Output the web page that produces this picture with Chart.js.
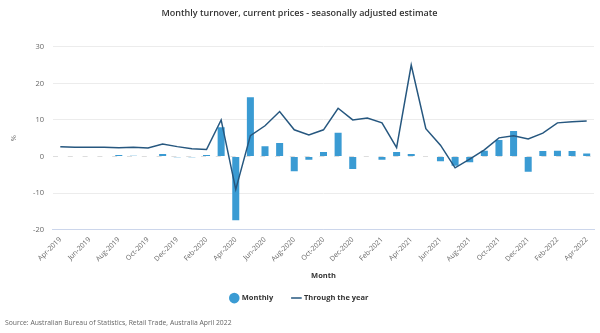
<!DOCTYPE html>
<html>
<head>
<meta charset="utf-8">
<script src="https://cdn.jsdelivr.net/npm/chart.js@4"></script>
<style>
  html, body { margin: 0; padding: 0; background: #fff; }
  #wrap { width: 600px; height: 333px; }
</style>
</head>
<body>
<div id="wrap"><canvas id="chart-1"></canvas></div>
<script>
const months = ['Apr-2019','May-2019','Jun-2019','Jul-2019','Aug-2019','Sep-2019','Oct-2019','Nov-2019','Dec-2019',
  'Jan-2020','Feb-2020','Mar-2020','Apr-2020','May-2020','Jun-2020','Jul-2020','Aug-2020','Sep-2020','Oct-2020','Nov-2020','Dec-2020',
  'Jan-2021','Feb-2021','Mar-2021','Apr-2021','May-2021','Jun-2021','Jul-2021','Aug-2021','Sep-2021','Oct-2021','Nov-2021','Dec-2021',
  'Jan-2022','Feb-2022','Mar-2022','Apr-2022'];

// month on month change, %
const monthly = [0.0, 0.0, 0.0, 0.0, 0.4, 0.2, 0.0, 0.7, -0.2,
  -0.2, 0.4, 8.0, -17.4, 16.2, 2.8, 3.7, -4.0, -0.9, 1.2, 6.5, -3.4,
  0.0, -0.9, 1.2, 0.7, 0.0, -1.3, -2.5, -1.6, 1.6, 4.5, 7.0, -4.2,
  1.5, 1.6, 1.5, 0.8];

// through the year change, %
const throughYear = [2.7, 2.5, 2.5, 2.5, 2.4, 2.5, 2.3, 3.4, 2.7,
  2.1, 1.9, 10.0, -9.0, 5.7, 8.4, 12.3, 7.3, 5.9, 7.3, 13.2, 10.0,
  10.5, 9.2, 2.4, 25.0, 7.6, 3.1, -3.1, -0.7, 1.8, 5.1, 5.7, 4.8,
  6.4, 9.2, 9.5, 9.7];

const yTicks = [-20, -10, 0, 10, 20, 30];

const FONT = '"Open Sans", "Noto Sans", sans-serif';

const ctx = document.getElementById('chart-1').getContext('2d');
const chart_1 = new Chart(ctx, {
    type: 'bar',
    data: {
        labels: months,
        datasets: [
            {
                label: 'Monthly',
                data: monthly,
                backgroundColor: '#3a9bd3',
                borderWidth: 0,
                barPercentage: 0.48,
                categoryPercentage: 1,
                pointStyle: 'circle',
                order: 1
            },
            {
                label: 'Through the year',
                type: 'line',
                data: throughYear,
                borderColor: '#26577f',
                backgroundColor: '#26577f',
                borderWidth: 1.5,
                pointRadius: 0,
                pointStyle: 'line',
                tension: 0,
                order: 0
            }
        ]
    },
    options: {
        responsive: true,
        maintainAspectRatio: false,
        animation: false,
        layout: {
            padding: { left: 5, right: 6, top: 4, bottom: 2 }
        },
        scales: {
            x: {
                offset: true,
                grid: { display: false, drawTicks: false },
                border: { display: true, color: '#ccd6eb' },
                ticks: {
                    autoSkip: false,
                    maxRotation: 45,
                    minRotation: 45,
                    padding: 6,
                    color: '#666',
                    font: { family: FONT, size: 7 },
                    callback: (v, i) => (i % 2 === 0 ? months[i] : '')
                },
                title: {
                    display: true,
                    text: 'Month',
                    color: '#333',
                    font: { family: FONT, size: 7.5, weight: 'bold' },
                    padding: { top: 2, bottom: 2 }
                }
            },
            y: {
                min: -20,
                max: 30,
                afterBuildTicks: axis => { axis.ticks = yTicks.map(v => ({ value: v })); },
                grid: {
                    drawTicks: false,
                    color: c => (c.tick && c.tick.value === -20 ? '#ccd6eb' : (c.tick && c.tick.value === 0 ? '#dddddd' : '#ececec')),
                    lineWidth: 1
                },
                border: {
                    display: false,
                    dash: c => (c.tick && c.tick.value === 0 ? [5, 9.8] : [])
                },
                ticks: {
                    padding: 9,
                    color: '#666',
                    font: { family: FONT, size: 7.5 }
                },
                title: {
                    display: true,
                    text: '%',
                    color: '#666',
                    font: { family: FONT, size: 7.5 },
                    padding: { bottom: 6 }
                }
            }
        },
        plugins: {
            title: {
                display: true,
                text: 'Monthly turnover, current prices - seasonally adjusted estimate',
                color: '#333',
                font: { family: FONT, size: 9, weight: '600' },
                padding: { top: 4, bottom: 28 }
            },
            subtitle: {
                display: true,
                position: 'bottom',
                align: 'start',
                text: 'Source: Australian Bureau of Statistics, Retail Trade, Australia April 2022',
                color: '#666',
                font: { family: FONT, size: 6.8 },
                padding: { top: 7, bottom: 4 }
            },
            legend: {
                position: 'bottom',
                labels: {
                    usePointStyle: true,
                    boxHeight: 9,
                    color: '#333',
                    font: { family: FONT, size: 7.5, weight: 'bold' },
                    padding: 12,
                    sort: (a, b) => a.datasetIndex - b.datasetIndex,
                    generateLabels: chart => {
                        const items = Chart.defaults.plugins.legend.labels.generateLabels(chart);
                        // extra room after the first entry
                        items.forEach(it => { if (it.datasetIndex === 0) it.text += '\u2003'; });
                        return items;
                    }
                }
            },
            tooltip: { enabled: false }
        }
    }
});
</script>
</body>
</html>
